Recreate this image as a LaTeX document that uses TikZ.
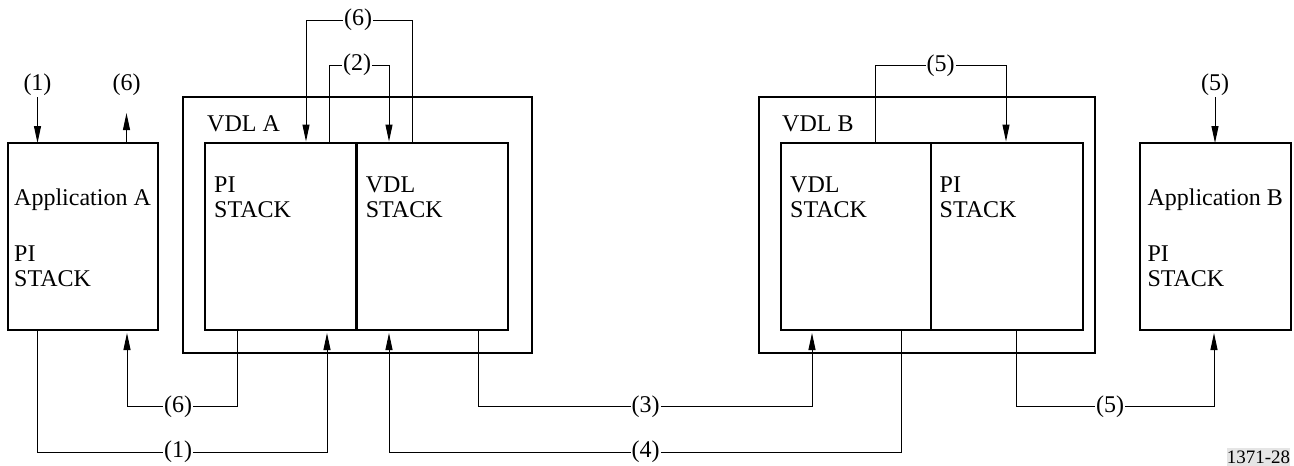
\documentclass[tikz,border=0pt]{standalone}
\usepackage{fontspec}
\setmainfont{Liberation Serif}
\usetikzlibrary{arrows.meta,calc}
\tikzset{
  blk/.style={draw, line width=1.8pt, inner sep=0pt, outer sep=0pt, anchor=north west},
  txt/.style={anchor=base west, inner sep=0pt, font=\fontsize{24}{24}\selectfont},
  lbl/.style={inner sep=1pt, font=\fontsize{24}{24}\selectfont},
  con/.style={line width=1pt},
  arr/.style={con, -{Triangle[length=17pt,width=7pt]}},
  divider/.style={line width=2.8pt},
  stamp/.style={fill=black!10, inner sep=0pt, font=\fontsize{19}{19}\selectfont}
}
\begin{document}
\begin{tikzpicture}[x=1pt,y=-1pt]
\useasboundingbox (0,0) rectangle (1294,466);

% boxes
\node[blk, minimum width=150pt, minimum height=187pt] (appA) at (8,143) {};
\node[blk, line width=1.6pt, minimum width=349pt, minimum height=256pt] (vdlA) at (183,97) {};
\node[blk, minimum width=151.7pt, minimum height=187pt] (piA) at (205,143) {};
\node[blk, minimum width=151.3pt, minimum height=187pt] (vdlsA) at (356.7,143) {};
\draw[divider] (piA.north east) -- (piA.south east);

\node[blk, line width=1.6pt, minimum width=336pt, minimum height=256pt] (vdlB) at (758.7,97) {};
\node[blk, minimum width=150pt, minimum height=187pt] (vdlsB) at (781,143) {};
\node[blk, minimum width=152.3pt, minimum height=187pt] (piB) at (931,143) {};
\draw[divider] (vdlsB.north east) -- (vdlsB.south east);

\node[blk, minimum width=150.7pt, minimum height=187pt] (appB) at (1140,143) {};

% texts
\node[txt] (tA1) at (14,205) {Application A};
\node[txt] (tA2) at (14,261) {PI};
\node[txt] (tA3) at (14,286.7) {STACK};
\node[txt] (tVA) at (207,131.7) {VDL A};
\node[txt] (tPA1) at (214,192.5) {PI};
\node[txt] (tPA2) at (214,217.5) {STACK};
\node[txt] (tSA1) at (365.7,192.5) {VDL};
\node[txt] (tSA2) at (365.7,217.5) {STACK};
\node[txt] (tVB) at (782,131.7) {VDL B};
\node[txt] (tSB1) at (790,192.5) {VDL};
\node[txt] (tSB2) at (790,217.5) {STACK};
\node[txt] (tPB1) at (939.5,192.5) {PI};
\node[txt] (tPB2) at (939.5,217.5) {STACK};
\node[txt] (tB1) at (1147.3,205) {Application B};
\node[txt] (tB2) at (1147.3,261) {PI};
\node[txt] (tB3) at (1147.3,286.7) {STACK};

% connector labels
\node[lbl] (lt1) at (37.5,85) {(1)};
\node[lbl] (lt6) at (126.5,85) {(6)};
\node[lbl] (l6t) at (358,20) {(6)};
\node[lbl] (l2) at (357,65) {(2)};
\node[lbl] (l5t) at (940.7,65.7) {(5)};
\node[lbl] (l5b) at (1215,85) {(5)};
\node[lbl] (lb6) at (178,406.7) {(6)};
\node[lbl] (lb1) at (178,452) {(1)};
\node[lbl] (lb3) at (645.7,406.7) {(3)};
\node[lbl] (lb4) at (645.7,452) {(4)};
\node[lbl] (lb5) at (1110,406.7) {(5)};

% top connectors
\draw[arr] (lt1.south) -- (lt1.south |- appA.north);
\draw[arr] (appA.north -| lt6.south) -- ($(lt6.south)+(0,16)$);
\draw[con] ($(vdlsA.north west)+(56,0)$) |- (l6t.east);
\draw[arr] (l6t.west) -| ($(piA.north west)+(101,-1.5)$);
\draw[con] ($(piA.north west)+(124,0)$) |- (l2.west);
\draw[arr] (l2.east) -| ($(vdlsA.north west)+(32.3,-1.5)$);
\draw[con] ($(vdlsB.north west)+(94.7,0)$) |- (l5t.west);
\draw[arr] (l5t.east) -| ($(piB.north west)+(75,-1.5)$);
\draw[arr] (l5b.south) -- (l5b.south |- appB.north);

% bottom connectors
\draw[con] ($(piA.south west)+(32,0)$) |- (lb6.east);
\draw[arr] (lb6.west) -| ($(appA.south west)+(119,3)$);
\draw[con] ($(appA.south west)+(29,0)$) |- (lb1.west);
\draw[arr] (lb1.east) -| ($(piA.south west)+(122,3)$);
\draw[con] ($(vdlsA.south west)+(121.3,0)$) |- (lb3.west);
\draw[arr] (lb3.east) -| ($(vdlsB.south west)+(31,3)$);
\draw[con] ($(vdlsB.south west)+(120.7,0)$) |- (lb4.east);
\draw[arr] (lb4.west) -| ($(vdlsA.south west)+(32.3,3)$);
\draw[con] ($(piB.south west)+(85,0)$) |- (lb5.west);
\draw[arr] (lb5.east) -| ($(appB.south west)+(74,3)$);

% figure number
\node[stamp, minimum width=63pt, minimum height=18.3pt] (fig) at (1258.5,457.3) {1371-28};
\end{tikzpicture}
\end{document}
